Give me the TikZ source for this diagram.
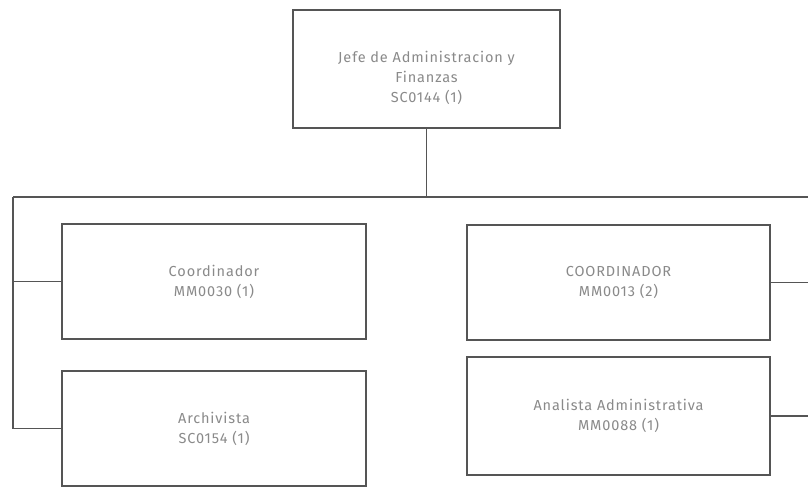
\documentclass[tikz,border=0pt]{standalone}
\usepackage{fontspec}
\setmainfont{Fira Sans}[LetterSpace=6]
\usepackage{xcolor}
\usetikzlibrary{positioning,calc}
\definecolor{linegray}{HTML}{555555}
\definecolor{textgray}{HTML}{8A8A8A}

\begin{document}
\begin{tikzpicture}[x=1pt, y=-1pt,
    puesto/.style={draw=linegray, line width=1.8pt, fill=white, align=center,
        text=textgray, font=\fontsize{14.5}{20}\selectfont, inner sep=0pt},
    enlace/.style={draw=linegray, line width=1.6pt}]
    \useasboundingbox (0,0) rectangle (808,488);
    % jefatura
    \node[puesto, minimum width=267pt, minimum height=118pt] (jefe) at (426.5,69)
        {\begin{tabular}{@{}c@{}}\rule{0pt}{32pt}Jefe de Administracion y\\ Finanzas\\ SC0144 (1)\end{tabular}};
    % columna izquierda
    \node[puesto, minimum width=304pt, minimum height=115pt] (coordL) at (214,281.5) {Coordinador\\MM0030 (1)};
    \node[puesto, minimum width=304pt, minimum height=115pt] (archivista) at (214,428.5) {Archivista\\SC0154 (1)};
    % columna derecha
    \node[puesto, minimum width=303pt, minimum height=115pt] (coordR) at (618.5,282.5) {COORDINADOR\\MM0013 (2)};
    \node[puesto, minimum width=303pt, minimum height=118pt] (analista) at (618.5,416) {Analista Administrativa\\MM0088 (1)};
    % lineas
    \coordinate (busL) at (13,197);
    \coordinate (busR) at (808,197);
    \draw[enlace] (busL) -- (busR);
    \draw[enlace] (jefe.south) -- (jefe.south |- busL);
    \draw[enlace] (busL) |- (archivista.west);
    \draw[enlace] (busL |- coordL.west) -- (coordL.west);
    \draw[enlace] (coordR.east) -- (coordR.east -| busR);
    \draw[enlace] (analista.east) -- (analista.east -| busR);
\end{tikzpicture}
\end{document}
